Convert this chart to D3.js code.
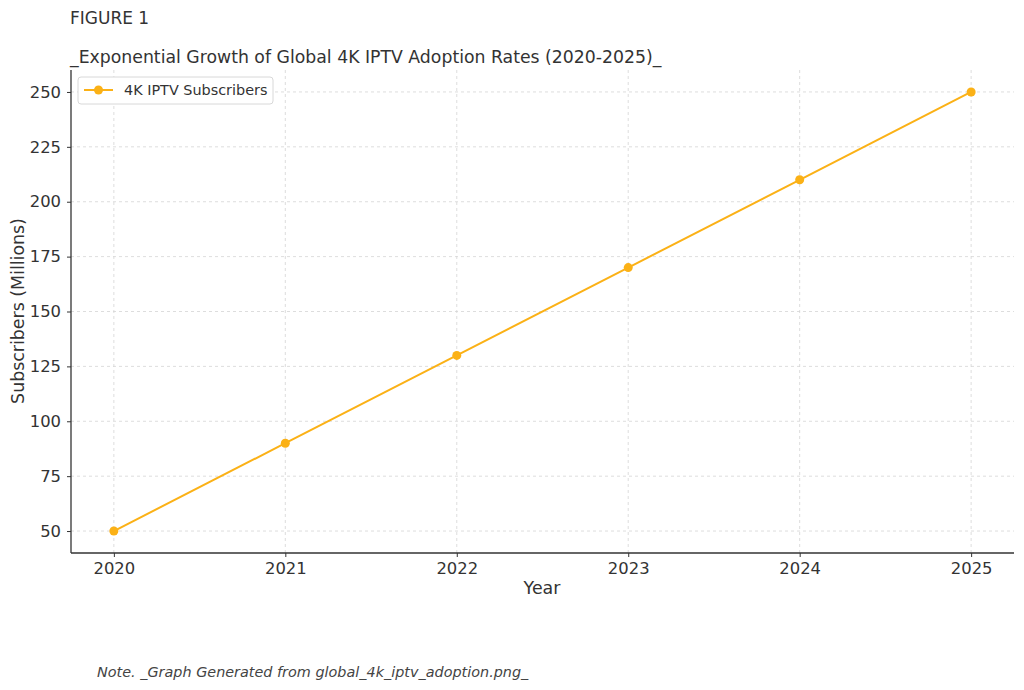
<!DOCTYPE html>
<html><head><meta charset="utf-8">
<script src="https://cdn.jsdelivr.net/npm/d3@7"></script>
<style>
body{margin:0;background:#fff;}
text{font-family:"DejaVu Sans",sans-serif;}
</style></head>
<body>
<svg id="c" width="1024" height="690"></svg>
<script>
const years = [2020, 2021, 2022, 2023, 2024, 2025];
const subscribers = [50, 90, 130, 170, 210, 250];
const yTicks = [50, 75, 100, 125, 150, 175, 200, 225, 250];
const seriesName = "4K IPTV Subscribers";

const svg = d3.select("#c");
const color = "#fbb116";
const ink = "#333";
const L = 71, R = 1014, T = 70, B = 553;

const x = d3.scaleLinear().domain([2019.75, 2025.25]).range([L, R]);
const y = d3.scaleLinear().domain([40, 260]).range([B, T]);

// grid
const g = svg.append("g");
g.selectAll(".gx").data(years).join("line")
  .attr("x1", d => x(d)).attr("x2", d => x(d)).attr("y1", T).attr("y2", B)
  .attr("stroke", "#d4d4d4").attr("stroke-dasharray", "3,3").attr("stroke-width", 0.8);
g.selectAll(".gy").data(yTicks).join("line")
  .attr("x1", L).attr("x2", R).attr("y1", d => y(d)).attr("y2", d => y(d))
  .attr("stroke", "#d4d4d4").attr("stroke-dasharray", "3,3").attr("stroke-width", 0.8);

// axes
const xAxis = d3.axisBottom(x).tickValues(years).tickFormat(d3.format("d")).tickSize(4).tickPadding(5);
const yAxis = d3.axisLeft(y).tickValues(yTicks).tickSize(4).tickPadding(6);
const gx = svg.append("g").attr("transform", `translate(0,${B})`).call(xAxis);
const gy = svg.append("g").attr("transform", `translate(${L},0)`).call(yAxis);
[gx, gy].forEach(a => {
  a.select(".domain").remove();
  a.selectAll(".tick line").attr("stroke", ink);
  a.selectAll(".tick text").attr("fill", ink).style("font-size", "16.4px").style("font-family", "DejaVu Sans");
});
svg.append("line").attr("x1", L).attr("x2", R).attr("y1", B).attr("y2", B).attr("stroke", ink).attr("stroke-width", 1.3);
svg.append("line").attr("x1", L).attr("x2", L).attr("y1", T).attr("y2", B).attr("stroke", ink).attr("stroke-width", 1.3);

// line
const data = years.map((yr, i) => ({yr, v: subscribers[i]}));
svg.append("path").datum(data)
  .attr("fill", "none").attr("stroke", color).attr("stroke-width", 2)
  .attr("d", d3.line().x(d => x(d.yr)).y(d => y(d.v)));
svg.selectAll(".pt").data(data).join("circle")
  .attr("cx", d => x(d.yr)).attr("cy", d => y(d.v)).attr("r", 4.5).attr("fill", color);

// legend
const lg = svg.append("g");
lg.append("rect").attr("x", 78).attr("y", 77).attr("width", 195).attr("height", 27).attr("rx", 3)
  .attr("fill", "#fff").attr("stroke", "#d8d8d8");
lg.append("line").attr("x1", 84).attr("x2", 113).attr("y1", 90).attr("y2", 90).attr("stroke", color).attr("stroke-width", 2);
lg.append("circle").attr("cx", 98.5).attr("cy", 90).attr("r", 4.5).attr("fill", color);
lg.append("text").attr("x", 124).attr("y", 95).text(seriesName).attr("fill", ink).style("font-size", "14.4px");

// labels
svg.append("text").attr("x", 70).attr("y", 24).text("FIGURE 1").attr("fill", ink).style("font-size", "17px");
svg.append("text").attr("x", 70).attr("y", 63).text("_Exponential Growth of Global 4K IPTV Adoption Rates (2020-2025)_").attr("fill", ink).style("font-size", "17.3px");
svg.append("text").attr("x", 542).attr("y", 594).attr("text-anchor", "middle").text("Year").attr("fill", ink).style("font-size", "17.4px");
svg.append("text").attr("transform", "translate(24,311) rotate(-90)").attr("text-anchor", "middle").text("Subscribers (Millions)").attr("fill", ink).style("font-size", "17.4px");
svg.append("text").attr("x", 97).attr("y", 677).text("Note. _Graph Generated from global_4k_iptv_adoption.png_")
  .attr("fill", "#444").style("font-size", "14.4px").style("font-style", "italic");
</script>
</body></html>
